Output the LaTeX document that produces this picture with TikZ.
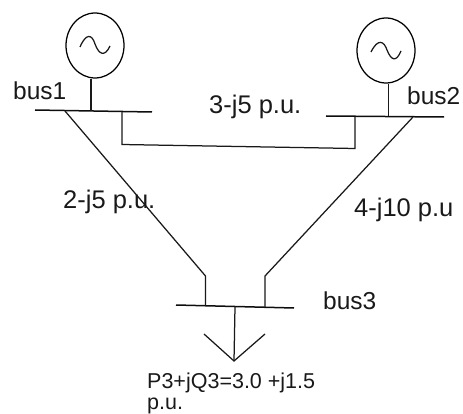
\documentclass[tikz,border=0pt]{standalone}
\usepackage{fontspec}
\setmainfont{Liberation Sans}
\usetikzlibrary{shapes.geometric}
\tikzset{
  wire/.style={line width=1.25pt,color=black!90},
  busbar/.style={line width=1.5pt,color=black!95},
  gen/.style={draw,ellipse,line width=1.25pt,inner sep=0pt,minimum width=58pt,minimum height=65pt},
  wave/.style={line width=1.25pt,color=black!90},
  lab/.style={inner sep=0pt,anchor=base west,font=\fontsize{24.5}{24.5}\selectfont,color=black!90},
  labm/.style={inner sep=0pt,anchor=base west,font=\fontsize{25.5}{25.5}\selectfont,color=black!90},
  labs/.style={inner sep=0pt,anchor=base west,font=\fontsize{21.5}{21.5}\selectfont,color=black!90}
}
\begin{document}
\begin{tikzpicture}[x=1pt,y=-1pt]
\useasboundingbox (0,0) rectangle (463,414);
% generators
\node[gen] (g1) at (95,45.5) {};
\node[gen] (g2) at (386,50.5) {};
% bus ends
\coordinate (b1l) at (35,110); \coordinate (b1r) at (152,112);
\coordinate (b2l) at (326,116); \coordinate (b2r) at (444,117);
\coordinate (b3l) at (176,305); \coordinate (b3r) at (294,308);
\draw[busbar] (b1l) -- (b1r);
\draw[busbar] (b2l) -- (b2r);
\draw[busbar] (b3l) -- (b3r);
% generator stems
\coordinate (s1) at (91,111); \coordinate (s2) at (388.5,116.5);
\draw[wire] (g1.south) ++(-4,0) -- (s1);
\draw[wire] (g2.south) ++(2.5,0) -- (s2);
% sine waves
\draw[wave] (80,47) .. controls (86,33) and (92,34) .. (95,44) .. controls (99,55) and (105,57) .. (110,46);
\draw[wave] (371,52) .. controls (378,38) and (384,41) .. (387,50) .. controls (391,60) and (396,63) .. (401,51);
% lines
\coordinate (t1) at (65,111); \coordinate (k1) at (205.5,276); \coordinate (e1) at (205.5,306);
\draw[wire] (t1) -- (k1) -- (e1);
\coordinate (t2) at (413,117); \coordinate (k2) at (265,276); \coordinate (e2) at (265,307);
\draw[wire] (t2) -- (k2) -- (e2);
\coordinate (u1) at (122,112); \coordinate (u2) at (122,144.5); \coordinate (u3) at (355,148.5); \coordinate (u4) at (355,117);
\draw[wire] (u1) -- (u2) -- (u3) -- (u4);
% load
\coordinate (l0) at (235,307); \coordinate (lt) at (234,361); \coordinate (ll) at (204,334); \coordinate (lr) at (265,334);
\draw[wire] (l0) -- (lt);
\draw[wire] (ll) -- (lt) -- (lr);
% labels
\node[lab] (n1) at (13,100) {bus1};
\node[lab] (n2) at (407,105) {bus2};
\node[lab] (n3) at (323,309) {bus3};
\node[labm] (n4) at (209,114) {3-j5 p.u.};
\node[labm] (n5) at (63,208) {2-j5 p.u.};
\node[labm] (n6) at (354,217) {4-j10 p.u};
\node[labs] (n7) at (147,388) {P3+jQ3=3.0 +j1.5};
\node[labs] (n8) at (147,409) {p.u.};
\end{tikzpicture}
\end{document}
